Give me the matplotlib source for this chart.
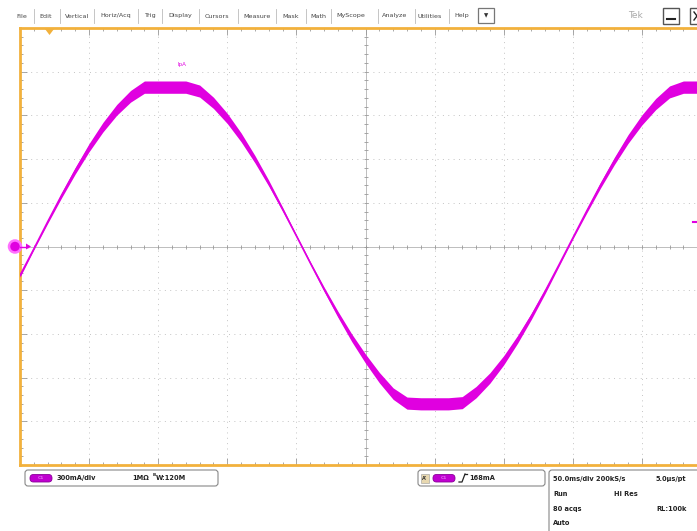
import matplotlib
matplotlib.use("Agg")
import matplotlib.pyplot as plt
from matplotlib.patches import FancyBboxPatch, Rectangle, Polygon, Circle
import numpy as np

time_ms = list(range(0, 510, 10))
current_mA = [-199, -17, 169, 350, 521, 679, 819, 938, 1031, 1094, 1094, 1094,
              1094, 1067, 986, 879, 749, 599, 434, 256, 73, -112, -293, -465,
              -626, -770, -900, -1010, -1075, -1080, -1080, -1080, -1072, -1000,
              -903, -781, -638, -479, -307, -126, 58, 242, 420, 586, 738, 869,
              978, 1061, 1094, 1094, 1094]

menu_items = ["File", "Edit", "Vertical", "Horiz/Acq", "Trig", "Display",
              "Cursors", "Measure", "Mask", "Math", "MyScope", "Analyze",
              "Utilities", "Help"]
ch_scale = "300mA/div"
ch_imp = "1MΩ"
ch_bw = "W:120M"
trig_level = "168mA"
status_rows = [("50.0ms/div 200kS/s", "", "5.0µs/pt"),
               ("Run", "Hi Res", ""),
               ("80 acqs", "", "RL:100k"),
               ("Auto", "", "")]
trace_label = "IpA"

# layout (pixels)
menu_x = [16, 39, 65, 100, 144, 168, 205, 243, 282, 310, 336, 382, 418, 454]
sep_x = [34, 60, 94, 138, 162, 199, 238, 276, 306, 331, 378, 415, 449]

MAG = "#e000e0"
ORANGE = "#f2b13c"
W, H = 697, 531

fig = plt.figure(figsize=(W / 100, H / 100), dpi=100)
bg = fig.add_axes([0, 0, 1, 1])
bg.set_xlim(0, W)
bg.set_ylim(H, 0)
bg.axis("off")
bg.set_zorder(5)

txt = dict(fontsize=4.6, color="#444444", va="center", ha="left",
           family="DejaVu Sans")
# menu bar
for name, x in zip(menu_items, menu_x):
    bg.text(x, 16, name, **txt)
for x in sep_x:
    bg.plot([x, x], [9, 23], color="#bbbbbb", lw=0.6)
bg.add_patch(Rectangle((478, 8), 16, 15, fc="white", ec="#777777", lw=0.9))
bg.text(486, 15.5, "▼", fontsize=4, ha="center", va="center", color="#333333")
bg.text(628, 16, "Tek", fontsize=6.5, color="#aaaaaa", va="center", ha="left")
bg.add_patch(Rectangle((663, 8), 16, 16, fc="white", ec="#555555", lw=1.0))
bg.plot([667, 675], [19, 19], color="#222222", lw=1.5)
bg.add_patch(Rectangle((690, 8), 16, 16, fc="white", ec="#555555", lw=1.0))
bg.plot([694, 700], [12, 20], color="#222222", lw=1.0)
bg.plot([694, 700], [20, 12], color="#222222", lw=1.0)

# ---------------- graticule ----------------
ax = fig.add_axes([20 / W, (H - 465) / H, 691 / W, 437 / H])
ax.set_zorder(1)
ax.set_xlim(0, 500)
ax.set_ylim(-1500, 1500)
ax.set_facecolor("white")
for s in ax.spines.values():
    s.set_color(ORANGE)
    s.set_linewidth(2)
ax.set_xticks(np.arange(0, 501, 50))
ax.set_xticks(np.arange(0, 501, 10), minor=True)
ax.set_yticks(np.arange(-1500, 1501, 300))
ax.set_yticks(np.arange(-1500, 1501, 60), minor=True)
ax.tick_params(which="both", direction="in", top=True, bottom=True,
               left=True, right=False, labelbottom=False, labelleft=False,
               color="#999999", width=0.6)
ax.tick_params(which="major", length=5)
ax.tick_params(which="minor", length=2.5)

gridc = "#c4c4c4"
for x in np.arange(50, 500, 50):
    if x != 250:
        ax.axvline(x, color=gridc, lw=0.7, ls=(0, (1, 4.5)), zorder=1)
for y in np.arange(-1200, 1201, 300):
    if y != 0:
        ax.axhline(y, color=gridc, lw=0.7, ls=(0, (1, 4.5)), zorder=1)
ax.axvline(250, color="#bdbdbd", lw=0.7, zorder=1)
ax.axhline(0, color="#bdbdbd", lw=0.7, zorder=1)
xs = np.arange(0, 501, 10)
ax.plot(xs, np.zeros_like(xs), ls="none", marker="|", ms=3.5, mew=0.6,
        color="#999999", zorder=1)
ys = np.arange(-1500, 1501, 60)
ax.plot(np.full_like(ys, 250), ys, ls="none", marker="_", ms=3.5, mew=0.6,
        color="#999999", zorder=1)

# trace: noisy band whose thickness grows with |i|
t = np.array(time_ms, dtype=float)
v = np.array(current_mA, dtype=float)
hw = 5 + 0.034 * np.abs(v)
ax.fill_between(t, v - hw, v + hw, color=MAG, lw=0, zorder=3)
ax.plot(t, v, color=MAG, lw=1.2, zorder=3)
ax.text(117, 1250, trace_label, color=MAG, fontsize=4, ha="center",
        va="center")

# trigger marker at top, channel marker at left
bg.add_patch(Polygon([[45, 29], [54, 29], [49.5, 35]], closed=True,
                     fc=ORANGE, ec="none", zorder=5))
bg.add_patch(Circle((15, 246.5), 6, fc=MAG, ec="#ff70ff", lw=1.8, zorder=6))
bg.plot([20, 28], [246.5, 246.5], color=MAG, lw=1.0, zorder=6)
bg.add_patch(Polygon([[26, 243.5], [26, 249.5], [31, 246.5]], closed=True,
                     fc=MAG, ec="none", zorder=6))
bg.plot([693, 697], [222, 222], color=MAG, lw=1.5, zorder=6)

# ---------------- bottom readouts ----------------
def pill(x, y, w, h):
    bg.add_patch(FancyBboxPatch((x, y), w, h,
                                boxstyle="round,pad=0,rounding_size=3.5",
                                fc="#c000d0", ec="#8a0099", lw=0.6, zorder=6))
    bg.text(x + w / 2, y + h / 2, "C1", fontsize=3.2, color="#e070f0",
            ha="center", va="center", zorder=7, weight="bold")

bold = dict(fontsize=4.8, color="#222222", va="center", ha="left",
            weight="bold")
bg.add_patch(FancyBboxPatch((25, 470), 193, 16,
                            boxstyle="round,pad=0,rounding_size=3",
                            fc="white", ec="#888888", lw=0.8))
pill(30, 474.5, 22, 7.5)
bg.text(57, 478, ch_scale, **bold)
bg.text(132, 478, ch_imp, **bold)
bg.text(153, 475.5, "B", fontsize=3, color="#222222", va="center",
        ha="left", weight="bold")
bg.text(156, 478, ch_bw, **bold)

bg.add_patch(FancyBboxPatch((418, 470), 127, 16,
                            boxstyle="round,pad=0,rounding_size=3",
                            fc="white", ec="#888888", lw=0.8))
bg.add_patch(Rectangle((421, 473.5), 8, 9, fc="#e8d8b0", ec="#999999",
                       lw=0.4))
bg.text(425, 478, "A'", fontsize=3.5, ha="center", va="center",
        color="#333333", weight="bold")
pill(433, 474.5, 22, 7.5)
bg.plot([459, 462, 465], [482, 482, 474], color="#222222", lw=0.9)
bg.plot([465, 467], [474, 474], color="#222222", lw=0.9)
bg.text(469, 478, trig_level, **bold)

bg.add_patch(FancyBboxPatch((549, 470), 170, 80,
                            boxstyle="round,pad=0,rounding_size=3",
                            fc="white", ec="#888888", lw=0.8))
row_y = [479, 494, 509, 523]
for (a, b, c), y in zip(status_rows, row_y):
    if a:
        bg.text(553, y, a, **bold)
    if b:
        bg.text(614, y, b, **bold)
    if c:
        bg.text(656, y, c, **bold)

fig.savefig("out.png", dpi=100)
